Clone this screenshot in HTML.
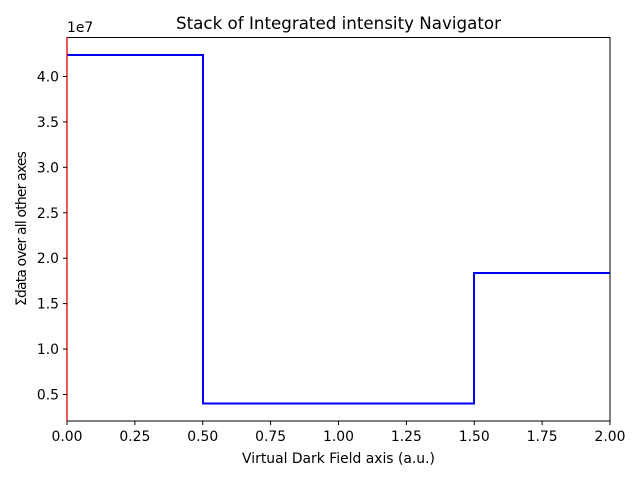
<!DOCTYPE html>
<html><head><meta charset="utf-8"><style>body{margin:0;background:#fff}</style></head><body>
<svg width="640" height="480" xmlns="http://www.w3.org/2000/svg" font-family="DejaVu Sans, Liberation Sans, sans-serif">
<rect width="640" height="480" fill="#fff"/>
<polyline points="67,55 203,55 203,403.5 474,403.5 474,273 610,273" fill="none" stroke="#0000ff" stroke-width="2"/>
<rect x="67" y="37.5" width="543" height="383.5" fill="none" stroke="#000" stroke-width="1"/>
<line x1="67" y1="37.5" x2="67" y2="421" stroke="#e00000" stroke-width="1.3"/>
<g stroke="#000" stroke-width="1">
<line x1="67" y1="421" x2="67" y2="425"/><line x1="134.9" y1="421" x2="134.9" y2="425"/><line x1="202.75" y1="421" x2="202.75" y2="425"/><line x1="270.6" y1="421" x2="270.6" y2="425"/><line x1="338.5" y1="421" x2="338.5" y2="425"/><line x1="406.4" y1="421" x2="406.4" y2="425"/><line x1="474.25" y1="421" x2="474.25" y2="425"/><line x1="542.1" y1="421" x2="542.1" y2="425"/><line x1="610" y1="421" x2="610" y2="425"/>
<line x1="63" y1="394.5" x2="67" y2="394.5"/><line x1="63" y1="349" x2="67" y2="349"/><line x1="63" y1="303.6" x2="67" y2="303.6"/><line x1="63" y1="258.2" x2="67" y2="258.2"/><line x1="63" y1="212.8" x2="67" y2="212.8"/><line x1="63" y1="167.3" x2="67" y2="167.3"/><line x1="63" y1="121.9" x2="67" y2="121.9"/><line x1="63" y1="76.5" x2="67" y2="76.5"/>
</g>
<g font-size="13.9" fill="#000" text-anchor="middle">
<text x="67" y="441">0.00</text><text x="134.9" y="441">0.25</text><text x="202.75" y="441">0.50</text><text x="270.6" y="441">0.75</text><text x="338.5" y="441">1.00</text><text x="406.4" y="441">1.25</text><text x="474.25" y="441">1.50</text><text x="542.1" y="441">1.75</text><text x="610" y="441">2.00</text>
</g>
<g font-size="13.9" fill="#000" text-anchor="end">
<text x="59" y="399.5">0.5</text><text x="59" y="354">1.0</text><text x="59" y="308.6">1.5</text><text x="59" y="263.2">2.0</text><text x="59" y="217.8">2.5</text><text x="59" y="172.3">3.0</text><text x="59" y="126.9">3.5</text><text x="59" y="81.5">4.0</text>
</g>
<text x="67" y="32" font-size="13.9">1e7</text>
<text x="338.5" y="29" font-size="16.7" text-anchor="middle">Stack of Integrated intensity Navigator</text>
<text x="338.5" y="463" font-size="13.9" text-anchor="middle">Virtual Dark Field axis (a.u.)</text>
<text transform="translate(26,229) rotate(-90)" font-size="13.9" text-anchor="middle" letter-spacing="-0.8">Σdata over all other axes</text>
</svg>
</body></html>
